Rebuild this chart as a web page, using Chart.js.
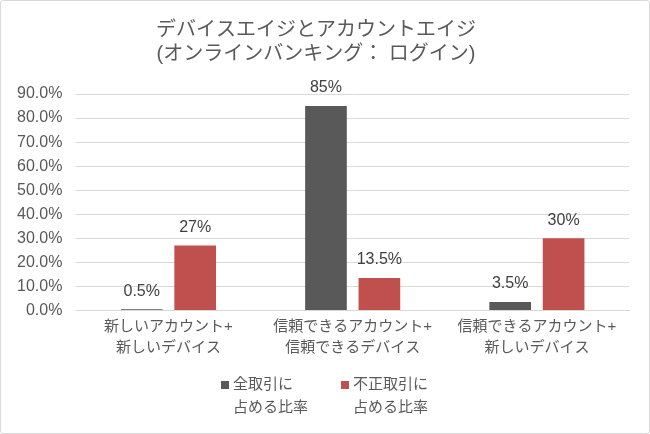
<!DOCTYPE html>
<html>
<head>
<meta charset="utf-8">
<script src="https://cdn.jsdelivr.net/npm/chart.js@4.4.0/dist/chart.umd.min.js"></script>
<style>
  html, body { margin: 0; padding: 0; background: #fff; }
  #wrap { width: 648px; height: 432px; border: 1px solid #d9d9d9; border-radius: 3px; }
</style>
</head>
<body>
<div id="wrap"><canvas id="chart" width="648" height="432"></canvas></div>
<script>
const titleLines = ["デバイスエイジとアカウントエイジ", "(オンラインバンキング： ログイン)"];
const categories = [
    ["新しいアカウント+", "新しいデバイス"],
    ["信頼できるアカウント+", "信頼できるデバイス"],
    ["信頼できるアカウント+", "新しいデバイス"]
];
const seriesNames = [["全取引に", "占める比率"], ["不正取引に", "占める比率"]];
const allTx = [0.5, 85, 3.5];
const fraudTx = [27, 13.5, 30];
const valueLabels = [["0.5%", "85%", "3.5%"], ["27%", "13.5%", "30%"]];
const colors = ["#595959", "#c0504d"];

const FONT = '"Liberation Sans", Arial, "Noto Sans CJK JP", sans-serif';

const barLabels = {
    id: "barLabels",
    afterDatasetsDraw(chart) {
        const ctx = chart.ctx;
        ctx.save();
        ctx.font = "16px " + FONT;
        ctx.fillStyle = "#404040";
        ctx.textAlign = "center";
        ctx.textBaseline = "bottom";
        chart.data.datasets.forEach((ds, i) => {
            chart.getDatasetMeta(i).data.forEach((bar, j) => {
                ctx.fillText(valueLabels[i][j], bar.x, bar.y - 10);
            });
        });
        ctx.restore();
    }
};

const bottomLegend = {
    id: "bottomLegend",
    afterDraw(chart) {
        const ctx = chart.ctx;
        ctx.save();
        ctx.font = "15px " + FONT;
        ctx.textBaseline = "middle";
        const starts = [220, 340];
        chart.data.datasets.forEach((ds, i) => {
            const x = starts[i];
            ctx.fillStyle = colors[i];
            ctx.fillRect(x, 380, 8, 8);
            ctx.fillStyle = "#595959";
            ctx.textAlign = "left";
            ctx.fillText(seriesNames[i][0], x + 12, 384);
            ctx.fillText(seriesNames[i][1], x + 12, 407);
        });
        ctx.restore();
    }
};

new Chart(document.getElementById("chart").getContext("2d"), {
    type: "bar",
    data: {
        labels: categories,
        datasets: [
            { label: seriesNames[0].join(""), data: allTx, backgroundColor: colors[0] },
            { label: seriesNames[1].join(""), data: fraudTx, backgroundColor: colors[1] }
        ]
    },
    options: {
        responsive: false,
        animation: false,
        categoryPercentage: 0.58,
        barPercentage: 0.78,
        layout: { padding: { left: 2, right: 20, top: 0, bottom: 69 } },
        plugins: {
            legend: { display: false },
            tooltip: { enabled: false },
            title: {
                display: true,
                text: titleLines,
                color: "#595959",
                font: { family: FONT, size: 20, weight: "normal", lineHeight: 1.2 },
                padding: { top: 17, bottom: 28 }
            }
        },
        scales: {
            x: {
                grid: { display: false, drawTicks: false },
                border: { color: "#d9d9d9" },
                ticks: { color: "#595959", font: { family: FONT, size: 15, lineHeight: 1.45 }, padding: 5, maxRotation: 0 }
            },
            y: {
                min: 0, max: 90,
                grid: { color: "#d9d9d9", drawTicks: false },
                border: { display: false },
                ticks: {
                    stepSize: 10,
                    padding: 14,
                    color: "#595959",
                    font: { family: FONT, size: 16 },
                    callback: v => v.toFixed(1) + "%"
                }
            }
        }
    },
    plugins: [barLabels, bottomLegend]
});
</script>
</body>
</html>
